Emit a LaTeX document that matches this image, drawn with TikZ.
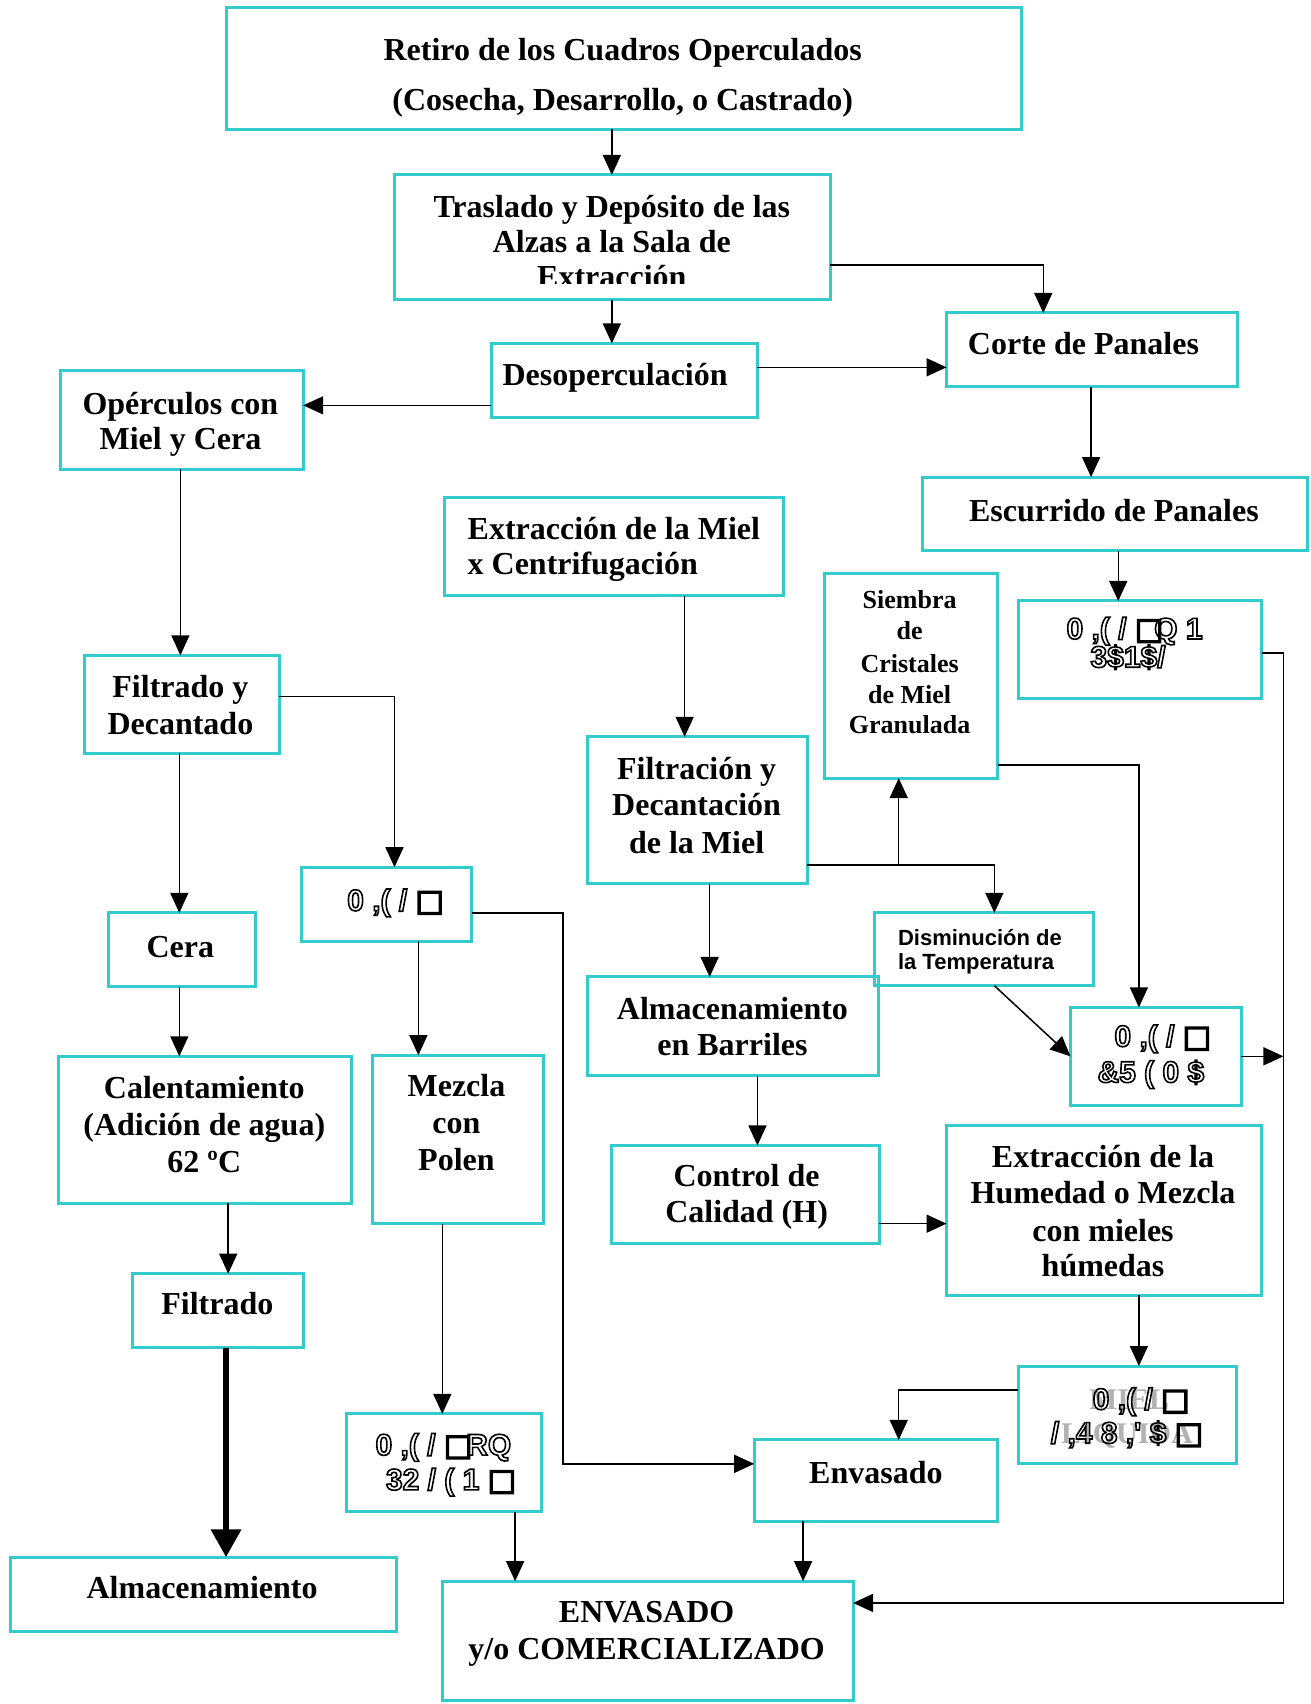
\documentclass[tikz,border=0pt]{standalone}
\usepackage{fontspec}
\setmainfont{Liberation Serif}
\newfontfamily\arialf{Liberation Sans}
\newfontfamily\dvf{DejaVu Sans}
\usetikzlibrary{arrows.meta,fit}
\definecolor{tealb}{RGB}{51,204,204}
\definecolor{ghostc}{RGB}{178,178,178}
\newcommand\sqg{{\dvf □}}
\newcommand\outl[1]{\special{pdf:literal direct 1 Tr 0.8 w}#1\special{pdf:literal direct 0 Tr 0.4 w}}
\newcommand\bx[5]{\coordinate (#1-a) at (#2,#3); \coordinate (#1-b) at (#4,#5); \node[box, fit=(#1-a)(#1-b)] (#1) {};}
\newcommand\tline[5]{\node[#1] (#2) at (#3,#4) {#5};}
\tikzset{
  box/.style={draw=tealb, line width=1.5pt, inner sep=0pt, outer sep=0pt, rectangle},
  arr/.style={line width=0.75pt, -{Triangle[length=10pt,width=9pt]}},
  thickarr/.style={line width=3.3pt, -{Triangle[length=14pt,width=14.5pt]}},
  tx/.style={font=\fontsize{16}{18}\selectfont\bfseries, inner sep=0pt, anchor=base},
  txw/.style={tx, anchor=base west},
  txs/.style={font=\fontsize{13}{15}\selectfont\bfseries, inner sep=0pt, anchor=base},
  txa/.style={font=\fontsize{11}{13}\selectfont\arialf\bfseries, inner sep=0pt, anchor=base west},
  gar/.style={font=\fontsize{15}{17}\selectfont\arialf\bfseries, inner sep=0pt, anchor=base},
  gh/.style={font=\fontsize{15}{17}\selectfont\bfseries, text=ghostc, inner sep=0pt, anchor=base}
}
\begin{document}
\begin{tikzpicture}[x=0.54355pt, y=-0.54355pt]
\useasboundingbox (0,0) rectangle (1206,1568);
% boxes
\bx{retiro}{208}{7}{940}{119}
\bx{traslado}{363}{161}{764}{276}
\bx{desop}{452}{316}{697}{384}
\bx{corte}{871}{288}{1139}{356}
\bx{opercul}{56}{341}{279}{432}
\bx{escurr}{849}{439}{1203}{507}
\bx{extrac}{409}{458}{721}{548}
\bx{siembra}{759}{528}{918}{716}
\bx{mpanal}{937}{553}{1161}{643}
\bx{filtdec}{78}{603}{257}{693}
\bx{filtrac}{541}{678}{743}{813}
\bx{miel}{277}{798}{434}{866}
\bx{cera}{100}{840}{235}{908}
\bx{dismin}{805}{840}{1006}{907}
\bx{almbar}{541}{899}{808}{990}
\bx{mcrema}{985}{927}{1142}{1017}
\bx{calent}{54}{972}{323}{1107}
\bx{mezcla}{343}{971}{500}{1126}
\bx{control}{563}{1054}{809}{1144}
\bx{humedad}{871}{1036}{1161}{1192}
\bx{filtrado}{122}{1172}{279}{1240}
\bx{mliq}{937}{1257}{1138}{1347}
\bx{mpolen}{319}{1301}{498}{1391}
\bx{envas}{694}{1325}{918}{1400}
\bx{almac}{10}{1433}{365}{1501}
\bx{envcom}{407}{1455}{785}{1565}
% helper coordinates
\foreach \v in {563,960,1004,1029,166,363,165,630,915,827,1048,653,697,210,208,385,407,474,739} {\coordinate (v\v) at (\v,0);}
\foreach \h in {244,338,373,601,641,796,704,1126,1279,840,972,1347,1475} {\coordinate (h\h) at (0,\h);}
\coordinate (k1) at (1181,1475);
\coordinate (k2) at (518,1347);
% connectors
\draw[arr] (retiro.south -| v563) -- (traslado.north -| v563);
\draw[arr] (traslado.south -| v563) -- (desop.north -| v563);
\draw[arr] (traslado.east |- h244) -| (corte.north -| v960);
\draw[arr] (desop.east |- h338) -- (corte.west |- h338);
\draw[arr] (desop.west |- h373) -- (opercul.east |- h373);
\draw[arr] (corte.south -| v1004) -- (escurr.north -| v1004);
\draw[arr] (escurr.south -| v1029) -- (mpanal.north -| v1029);
\draw[arr] (mpanal.east |- h601) -| (k1) -- (envcom.east |- k1);
\draw[arr] (mcrema.east |- h972) -- (k1 |- h972);
\draw[arr] (opercul.south -| v166) -- (filtdec.north -| v166);
\draw[arr] (filtdec.east |- h641) -| (miel.north -| v363);
\draw[arr] (filtdec.south -| v165) -- (cera.north -| v165);
\draw[arr] (extrac.south -| v630) -- (filtrac.north -| v630);
\draw[arr] (filtrac.east |- h796) -| (dismin.north -| v915);
\draw[arr] (v827 |- h796) -- (siembra.south -| v827);
\draw[arr] (siembra.east |- h704) -| (mcrema.north -| v1048);
\draw[arr] (dismin.south -| v915) -- (mcrema.west |- h972);
\draw[arr] (filtrac.south -| v653) -- (almbar.north -| v653);
\draw[arr] (almbar.south -| v697) -- (control.north -| v697);
\draw[arr] (control.east |- h1126) -- (humedad.west |- h1126);
\draw[arr] (humedad.south -| v1048) -- (mliq.north -| v1048);
\draw[arr] (mliq.west |- h1279) -| (envas.north -| v827);
\draw[arr] (cera.south -| v165) -- (calent.north -| v165);
\draw[arr] (calent.south -| v210) -- (filtrado.north -| v210);
\draw[thickarr] (filtrado.south -| v208) -- (almac.north -| v208);
\draw[arr] (miel.south -| v385) -- (mezcla.north -| v385);
\draw[arr] (miel.east |- h840) -| (k2) -- (envas.west |- k2);
\draw[arr] (mezcla.south -| v407) -- (mpolen.north -| v407);
\draw[arr] (mpolen.south -| v474) -- (envcom.north -| v474);
\draw[arr] (envas.south -| v739) -- (envcom.north -| v739);
% texts
\tline{tx}{t1a}{573}{56}{Retiro de los Cuadros Operculados}
\tline{tx}{t1b}{573}{102}{(Cosecha, Desarrollo, o Castrado)}
\begin{scope}
\clip (363,161) rectangle (764,261);
\tline{tx}{t2a}{563}{200}{Traslado y Depósito de las}
\tline{tx}{t2b}{563}{232}{Alzas a la Sala de}
\tline{tx}{t2c}{563}{265}{Extracción}
\end{scope}
\tline{tx}{t3}{566}{355}{Desoperculación}
\tline{tx}{t4}{997}{326}{Corte de Panales}
\tline{tx}{t5a}{166}{381}{Opérculos con}
\tline{tx}{t5b}{166}{414}{Miel y Cera}
\tline{tx}{t6}{1025}{480}{Escurrido de Panales}
\tline{txw}{t7a}{430}{496}{Extracción de la Miel}
\tline{txw}{t7b}{430}{529}{x Centrifugación}
\tline{txs}{t8a}{837}{560}{Siembra}
\tline{txs}{t8b}{837}{588}{de}
\tline{txs}{t8c}{837}{619}{Cristales}
\tline{txs}{t8d}{837}{647}{de Miel}
\tline{txs}{t8e}{837}{675}{Granulada}
\tline{tx}{t10a}{166}{642}{Filtrado y}
\tline{tx}{t10b}{166}{676}{Decantado}
\tline{tx}{t11a}{641}{717}{Filtración y}
\tline{tx}{t11b}{641}{750}{Decantación}
\tline{tx}{t11c}{641}{785}{de la Miel}
\tline{tx}{t13}{166}{881}{Cera}
\tline{txa}{t14a}{826}{870}{Disminución de}
\tline{txa}{t14b}{826}{892}{la Temperatura}
\tline{tx}{t15a}{674}{938}{Almacenamiento}
\tline{tx}{t15b}{674}{971}{en Barriles}
\tline{tx}{t17a}{188}{1011}{Calentamiento}
\tline{tx}{t17b}{188}{1045}{(Adición de agua)}
\tline{tx}{t17c}{188}{1079}{62 ºC}
\tline{tx}{t18a}{420}{1009}{Mezcla}
\tline{tx}{t18b}{420}{1043}{con}
\tline{tx}{t18c}{420}{1077}{Polen}
\tline{tx}{t19a}{687}{1092}{Control de}
\tline{tx}{t19b}{687}{1125}{Calidad (H)}
\tline{tx}{t20a}{1015}{1074}{Extracción de la}
\tline{tx}{t20b}{1015}{1107}{Humedad o Mezcla}
\tline{tx}{t20c}{1015}{1142}{con mieles}
\tline{tx}{t20d}{1015}{1175}{húmedas}
\tline{tx}{t21}{200}{1210}{Filtrado}
\tline{tx}{t24}{806}{1365}{Envasado}
\tline{tx}{t25}{186}{1471}{Almacenamiento}
\tline{tx}{t26a}{595}{1493}{ENVASADO}
\tline{tx}{t26b}{595}{1527}{y/o COMERCIALIZADO}
% garbled texts (as printed)
\tline{gh}{gh22a}{1039}{1297}{MIEL}
\tline{gh}{gh22b}{1037}{1328}{LIQUIDA}
\tline{gar}{g9a}{1044}{588}{\outl{0 ,( / \sqg\kern-0.3em Q 1}}
\tline{gar}{g9b}{1038}{614}{\outl{3\$1\$/}}
\tline{gar}{g12}{364}{838}{\outl{0 ,( / \sqg}}
\tline{gar}{g16a}{1070}{963}{\outl{0 ,( / \sqg}}
\tline{gar}{g16b}{1059}{996}{\outl{\&5 ( 0 \$}}
\tline{gar}{g22a}{1050}{1297}{\outl{0 ,( / \sqg}}
\tline{gar}{g22b}{1037}{1328}{\outl{/ ,4 8 ,' \$ \sqg}}
\tline{gar}{g23a}{408}{1339}{\outl{0 ,( / \sqg\kern-0.2em RQ}}
\tline{gar}{g23b}{415}{1371}{\outl{32 / ( 1 \sqg}}
\end{tikzpicture}
\end{document}
